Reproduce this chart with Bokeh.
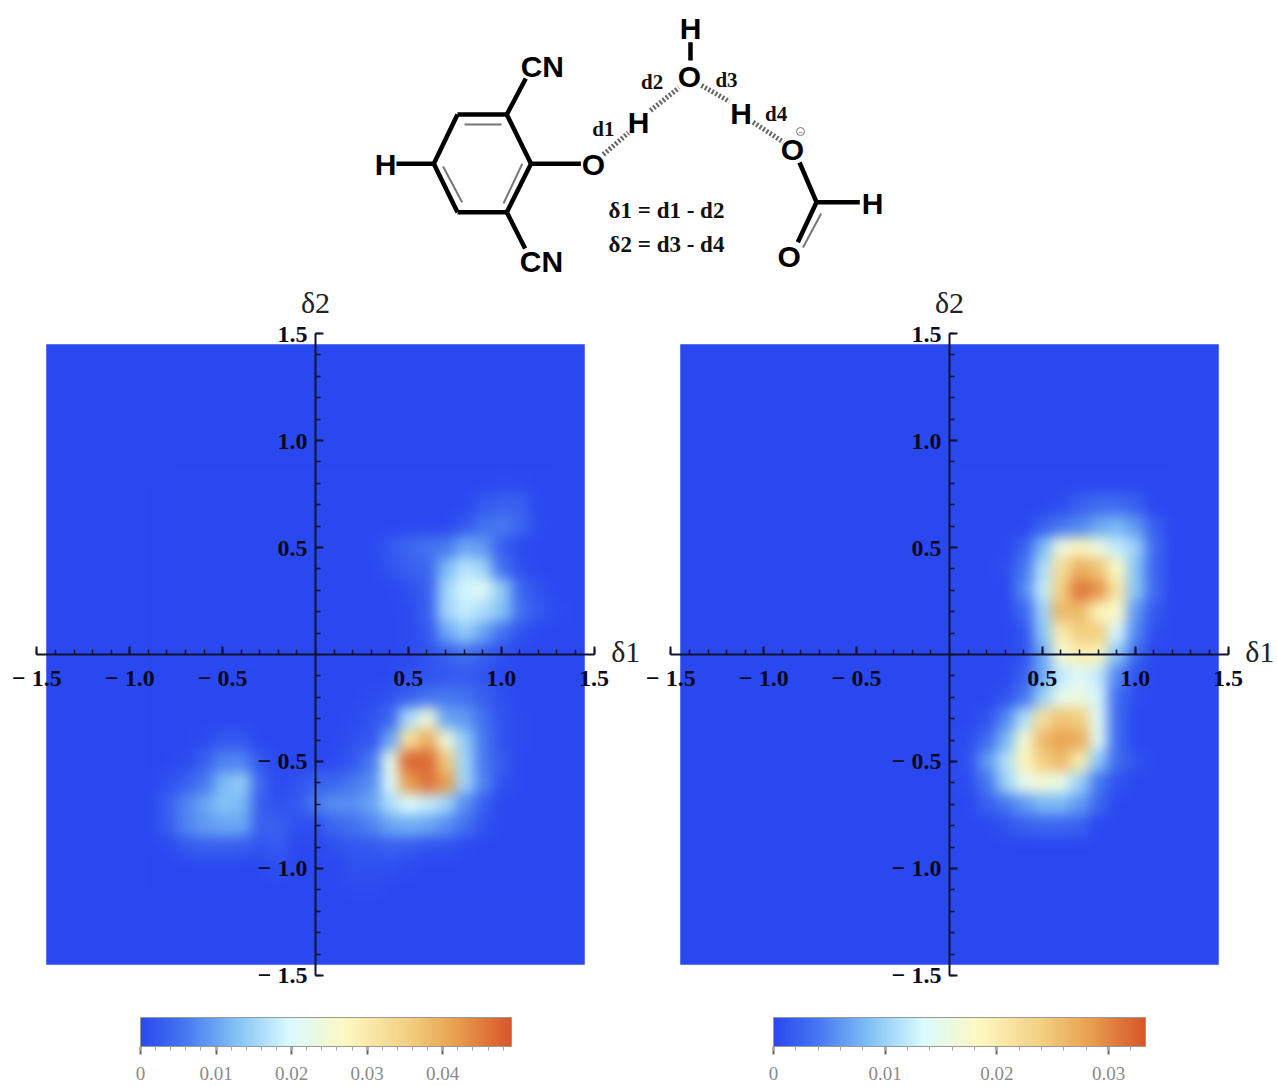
import numpy as np
from bokeh.core.properties import value
from bokeh.embed import file_html
from bokeh.events import DocumentReady
from bokeh.io import curdoc
from bokeh.layouts import column, row
from bokeh.models import ColorBar, CustomJS, FixedTicker, LinearAxis, LinearColorMapper, Range1d
from bokeh.plotting import figure
from bokeh.resources import INLINE

# ---- density data (units of 0.001), rows listed top (high delta2) to bottom
left_x0, left_y_top = -0.8, 0.8
left_density = [
 [0,0,0,0,0,0,0,0,0,0,0,0,0,0,0,0,0,0,.5,.3,0,0],
 [0,0,0,0,0,0,0,0,0,0,0,0,0,0,0,0,0,2,3,3,0,0],
 [0,0,0,0,0,0,0,0,0,0,0,0,0,0,0,0,2,5,6,4,.5,0],
 [0,0,0,0,0,0,0,0,0,0,0,0,2,4,5,6,10,9,3,.5,0,0],
 [0,0,0,0,0,0,0,0,0,0,0,0,1.5,3,4,12,17,15,5,1,0,0],
 [0,0,0,0,0,0,0,0,0,0,0,0,0,1,3,15,19,21,14,4,1.5,0],
 [0,0,0,0,0,0,0,0,0,0,0,0,0,.5,3,15,18,16,13,5,2,.5],
 [0,0,0,0,0,0,0,0,0,0,0,0,0,.3,2,10,14,10,5,1.5,0,0],
 [0,0,0,0,0,0,0,0,0,0,0,0,0,.5,1.5,3,5,3,1,0,0,0],
 [0,0,0,0,0,0,0,0,0,0,0,0,0,1,1.5,2,2.5,1.5,.3,0,0,0],
 [0,0,0,0,0,0,0,0,0,0,0,.5,1.5,3,5,6,5,3,1,0,0,0],
 [0,0,0,0,0,0,0,0,0,0,.5,1.5,4,16,24,10,9,5,1.5,.3,0,0],
 [0,0,.5,2,2,0,0,0,0,0,1,2,10,32,40,24,14,6,1.5,.3,0,0],
 [0,.5,3,7,7,2,0,0,0,.5,2,6,22,47,47,36,15,6,2.5,0,0,0],
 [1,3,6,12,14,4,.5,1.5,3,4,6,8,20,42,46,42,15,7,1.5,0,0,0],
 [3,7,10,13,12,3,1,2,6,8,8,10,16,20,18,15,8,3,0,0,0,0],
 [2.5,7,9,10,10,3,3,1,1,4,5,7,10,11,10,8,5,1.5,0,0,0,0],
 [.5,2,3,3,2.5,1.5,2.5,0,0,1,2,2,3,2.5,1.5,1.5,.3,0,0,0,0,0],
 [0,0,0,0,0,0,.8,0,0,0,1,1,1,.5,0,0,0,0,0,0,0,0],
 [0,0,0,0,0,0,0,0,0,0,.5,.5,0,0,0,0,0,0,0,0,0,0],
]
right_x0, right_y_top = 0.0, 0.8
right_density = [
 [0,0,0,0,0,0,0,0,0,0,0,0,0],
 [0,0,0,0,0,0,.5,2,3,3,2,0,0],
 [0,0,0,0,0,2,4,5,7,8,6,2,0],
 [0,0,0,0,2,8,16,19,16,12,10,3,0],
 [0,0,0,.5,4,11,22,27,25,18,9,2.5,0],
 [0,0,0,0,5,12,24,31,29,21,9,3,0],
 [0,0,0,0,2.5,10,26,26,19,18,6,1.5,0],
 [0,0,0,0,1,9,20,24,24,13,5,.5,0],
 [0,0,0,0,1,7,17,20,19,9,3,0,0],
 [0,0,0,0,2,7,12,14,12,5,1,0,0],
 [0,0,0,1,4,10,15,16,13,3,.5,0,0],
 [0,0,1,5,11,22,25,24,14,3,0,0,0],
 [0,.5,3,8,17,26,28,27,14,3,0,0,0],
 [0,1,6,11,19,24,26,20,9,3,1,0,0],
 [0,.5,4,10,15,17,15,10,4,1,0,0,0],
 [0,0,2,4,6,8,8,6,2.5,0,0,0,0],
 [0,0,0,1,2,2.5,2.5,2,0,0,0,0,0],
 [0,0,0,0,0,0,0,0,0,0,0,0,0],
]
left_high, right_high = 0.0491, 0.0333
left_cbar_ticks = [0, 0.01, 0.02, 0.03, 0.04]
right_cbar_ticks = [0, 0.01, 0.02, 0.03]
axis_ticks = [-1.5, -1.0, -0.5, 0.5, 1.0, 1.5]
axis_minor = [round(-1.5 + 0.1 * i, 1) for i in range(31)]
axis_labels = {-1.5: "− 1.5", -1.0: "− 1.0", -0.5: "− 0.5", 0.5: "0.5", 1.0: "1.0", 1.5: "1.5"}
density_extent = 1.45

# ---- molecule diagram (diagram units = pixels of the scheme)
bold_bonds = [
 (433.3,163.3,457,114),(457,114,506.3,114),(506.3,114,530.5,163.3),(530.5,163.3,506.3,211.7),
 (506.3,211.7,457,211.7),(457,211.7,433.3,163.3),(396,163.3,433.3,163.3),(506.3,114,525.3,78),
 (506.3,211.7,524.6,248),(530.5,163.3,580.4,163.3),(690,41.7,690,60),(799,162,816,201.7),
 (816,201.7,859.3,201.7),(816,201.7,797.3,241.7),
]
thin_bonds = [(464,124,501,124),(521.8,163.3,503,203),(442.6,166,461.6,201.7),(820.7,213,802.5,247)]
hashed_bonds = [(602.8,154,628,132.3),(650,110,678.5,87.3),(701,85,729,101),(752.6,121.7,783,141.7)]
atom_labels = ["H","CN","CN","O","H","O","H","H","O","H","O"]
atom_x = [385,541.8,541,593,638,689,690,740.5,792,872,788.7]
atom_y = [163.5,66,261,164,122,76,28,113,149,203,256]
dist_labels = ["d1","d2","d3","d4"]
dist_x = [602.8,651.7,726,775.6]
dist_y = [128,81,79,113]
eq_labels = ["δ1 = d1 - d2","δ2 = d3 - d4"]
eq_x = [666,666]
eq_y = [210,244]

# ---- palette
stops = [(0,(42,72,240)),(.12,(70,120,240)),(.25,(125,190,245)),(.40,(218,250,255)),(.55,(253,249,195)),
         (.72,(243,208,130)),(.85,(232,160,80)),(1,(216,85,42))]
pos = [s[0] for s in stops]
palette = ["#%02x%02x%02x" % tuple(int(round(np.interp(i / 255, pos, [s[1][c] for s in stops]))) for c in range(3))
           for i in range(256)]

SERIF = value("Liberation Serif")
AXIS_COLOR = "#10122e"


def panel(density, x0, y_top, high, ticks, width, x_range, bar_left, bar_width, delta1_x):
    p = figure(width=width, height=806, x_range=Range1d(*x_range), y_range=Range1d(-2.019, 1.748),
               x_axis_location=None, y_axis_location=None, tools="", toolbar_location=None,
               output_backend="svg", min_border=0, outline_line_color=None, background_fill_color="white")
    p.grid.visible = False
    mapper = LinearColorMapper(palette=palette, low=0, high=high)
    p.quad(left=-density_extent, right=density_extent, bottom=-density_extent, top=density_extent,
           fill_color=palette[0], line_color=None)
    arr = np.array(density, dtype=float) / 1000.0
    nrows, ncols = arr.shape
    p.image(image=[np.flipud(arr)], x=x0 - 0.05, y=y_top + 0.05 - nrows * 0.1, dw=ncols * 0.1, dh=nrows * 0.1,
            color_mapper=mapper)
    for loc, fixed in (("below", 0), ("left", 0)):
        ax = LinearAxis(fixed_location=fixed, bounds=(-1.5, 1.5),
                        ticker=FixedTicker(ticks=axis_ticks, minor_ticks=axis_minor),
                        major_label_overrides=axis_labels, axis_line_color=AXIS_COLOR, axis_line_width=2,
                        major_tick_line_color=AXIS_COLOR, minor_tick_line_color=AXIS_COLOR,
                        major_tick_line_width=2, minor_tick_line_width=1.5,
                        major_tick_in=8, major_tick_out=0, minor_tick_in=5, minor_tick_out=0,
                        major_label_text_font="Liberation Serif", major_label_text_font_style="bold",
                        major_label_text_font_size="24px", major_label_text_color="#0a0a1e")
        ax.major_label_standoff = 10 if loc == "below" else 8
        p.add_layout(ax, loc)
    p.text(x=[delta1_x], y=[0.012], text=["δ1"], text_font=SERIF, text_font_size="30px",
           text_align="center", text_baseline="middle", text_color="#222222")
    p.text(x=[0.0], y=[1.646], text=["δ2"], text_font=SERIF, text_font_size="30px",
           text_align="center", text_baseline="middle", text_color="#222222")
    labels = {t: ("0" if t == 0 else f"{t:.2f}") for t in ticks}
    minors = [round(i * 0.002, 3) for i in range(int(high / 0.002) + 1)]
    bar = ColorBar(color_mapper=mapper, orientation="horizontal", location=(bar_left, 4), width=bar_width, height=29,
                   padding=0, margin=0, background_fill_color=None, border_line_color=None, bar_line_color="#999999",
                   ticker=FixedTicker(ticks=ticks, minor_ticks=minors), major_label_overrides=labels,
                   major_tick_in=0, major_tick_out=8, minor_tick_in=0, minor_tick_out=4,
                   major_tick_line_color="#666666", minor_tick_line_color="#aaaaaa", major_tick_line_width=2,
                   major_label_text_font="Liberation Serif", major_label_text_font_size="19px",
                   major_label_text_color="#8a8a8a", label_standoff=12)
    p.add_layout(bar, "center")
    return p


top = figure(width=1277, height=280, x_range=Range1d(0, 1277), y_range=Range1d(280, 0), x_axis_location=None,
             y_axis_location=None, tools="", toolbar_location=None, output_backend="svg", min_border=0,
             outline_line_color=None)
top.grid.visible = False
for bonds, color, w, dash in ((bold_bonds, "#000000", 4.5, "solid"), (thin_bonds, "#777777", 2, "solid"),
                              (hashed_bonds, "#666666", 5, "2 2")):
    a = np.array(bonds)
    top.segment(a[:, 0], a[:, 1], a[:, 2], a[:, 3], line_color=color, line_width=w, line_dash=dash)
top.text(atom_x, atom_y, text=atom_labels, text_font=value("Liberation Sans"), text_font_size="30px",
         text_font_style="bold", text_align="center", text_baseline="middle", text_color="#000000")
top.text(dist_x, dist_y, text=dist_labels, text_font=SERIF, text_font_size="21px", text_font_style="bold",
         text_align="center", text_baseline="middle", text_color="#111111")
top.text(eq_x, eq_y, text=eq_labels, text_font=SERIF, text_font_size="23px", text_font_style="bold",
         text_align="center", text_baseline="middle", text_color="#111111")
top.scatter([800], [131], size=8, marker="circle", fill_color="white", line_color="#777777", line_width=1)
top.text([800], [131], text=["−"], text_font=SERIF, text_font_size="9px", text_align="center",
         text_baseline="middle", text_color="#444444")

sx = 185.7
left = panel(left_density, left_x0, left_y_top, left_high, left_cbar_ticks, 643,
             ((0 - 315) / sx, (643 - 315) / sx), 140, 371, 1.671)
right = panel(right_density, right_x0, right_y_top, right_high, right_cbar_ticks, 634,
              ((643 - 949) / sx, (1277 - 949) / sx), 130, 372, 1.671)

page = column(top, row(left, right, spacing=0), spacing=0)

# The density cells stay as read; the browser only softens the image element, as the blurred original does.
soften = CustomJS(code="""
function walk(root) {
  root.querySelectorAll('*').forEach(el => {
    const sr = el.shadowRoot;
    if (sr) {
      if (sr.querySelector('svg') && !sr.querySelector('style[data-soft]')) {
        const st = document.createElement('style');
        st.setAttribute('data-soft', '1');
        st.textContent = 'svg image:not([height="29"]) { filter: blur(6.5px); }';
        sr.appendChild(st);
      }
      walk(sr);
    }
  });
}
[0, 100, 300, 800, 1500].forEach(t => setTimeout(() => walk(document), t));
""")
doc = curdoc()
doc.add_root(page)
doc.js_on_event(DocumentReady, soften)
open("out.html", "w").write(file_html(page, INLINE))
